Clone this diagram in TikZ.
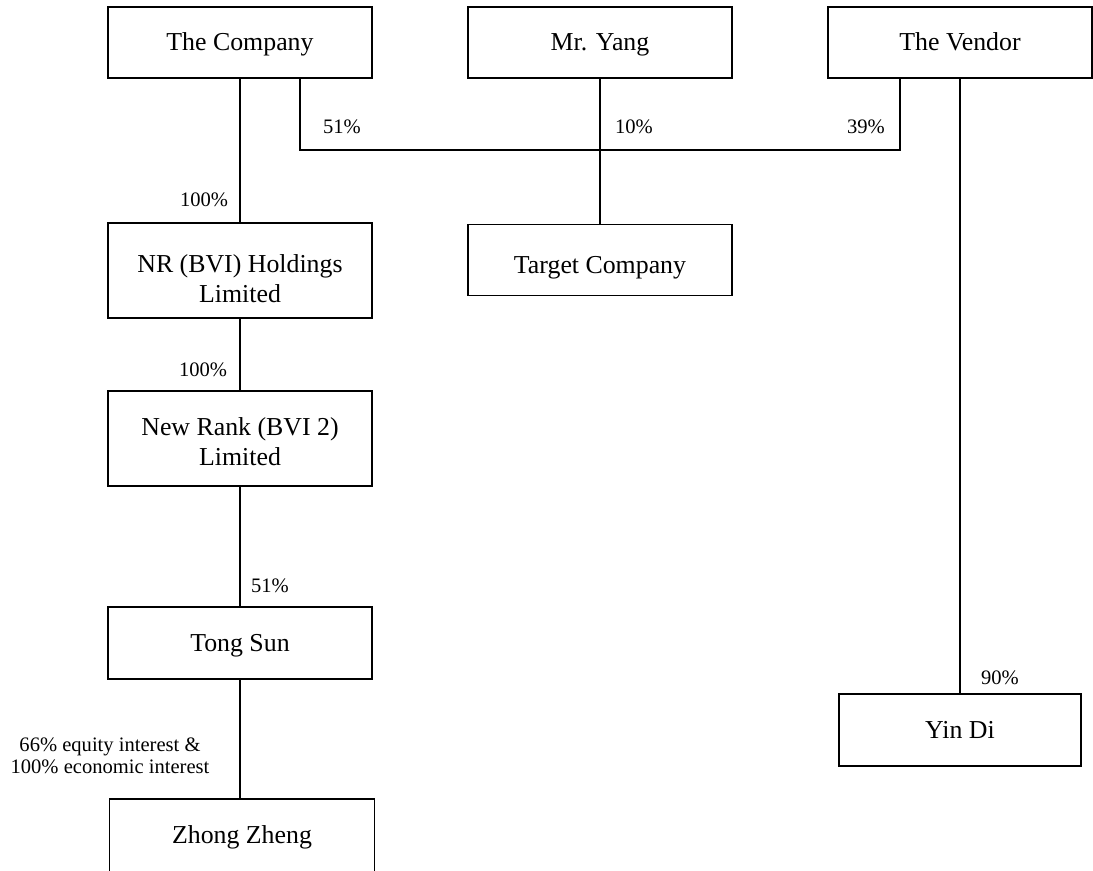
\documentclass[tikz,border=0pt]{standalone}
\usepackage{fontspec}
\setmainfont{Liberation Serif}
\usepackage{tikz}
\usetikzlibrary{positioning}

\begin{document}
\begin{tikzpicture}[line width=0.6pt,
	entity/.style={draw, align=center, minimum width=5.28cm, minimum height=1.44cm, inner sep=2pt, font=\fontsize{14.7}{17}\selectfont},
	oneline/.style={text height=10.5pt, text depth=1pt},
	share/.style={inner sep=0pt, font=\fontsize{11.7}{12.5}\selectfont}]%, every node/.style={draw=black!30}]
	\useasboundingbox (0,0) rectangle (21.86,17.4);
	% top row
	\node[entity, oneline, minimum height=1.42cm] (company) at (4.8,16.55) {The Company};
	\node[entity, oneline, minimum height=1.42cm] (yang) at (12,16.55) {Mr. Yang};
	\node[entity, oneline, minimum height=1.42cm] (vendor) at (19.2,16.55) {The Vendor};
	% left chain
	\node[entity, minimum height=1.9cm] (nr) at (4.8,11.99) {\rule{0pt}{19pt}NR (BVI) Holdings\\Limited};
	\node[entity, minimum height=1.9cm] (newrank) at (4.8,8.63) {\rule{0pt}{13.5pt}New Rank (BVI 2)\\Limited};
	\node[entity, oneline] (tongsun) at (4.8,4.54) {Tong Sun};
	\node[entity, oneline, draw=none, anchor=north] (zhong) at (4.84,1.42) {Zhong Zheng};
	\draw (zhong.south west) -- (zhong.north west) -- (zhong.north east) -- (zhong.south east);
	% target and Yin Di
	\node[entity, oneline, text height=15.5pt, text depth=0pt, minimum height=1.42cm] (target) at (12,12.2) {Target Company};
	\node[entity, oneline, minimum width=4.84cm] (yindi) at (19.2,2.8) {Yin Di};
	% connectors
	\coordinate (busL) at (6,14.4);
	\coordinate (busR) at (18,14.4);
	\draw (company.south -| busL) -- (busL) -- (busR) -- (vendor.south -| busR);
	\draw (yang) -- (target);
	\draw (company) -- (nr);
	\draw (nr) -- (newrank);
	\draw (newrank) -- (tongsun);
	\draw (tongsun.south) -- (tongsun.south |- zhong.north);
	\draw (vendor) -- (yindi);
	% percentages
	\node[share] (pc1) at (6.84,14.86) {51\%};
	\node[share] (pc2) at (12.68,14.86) {10\%};
	\node[share] (pc3) at (17.32,14.86) {39\%};
	\node[share] (pc4) at (4.08,13.4) {100\%};
	\node[share] (pc5) at (4.06,10.0) {100\%};
	\node[share] (pc6) at (5.4,5.68) {51\%};
	\node[share, align=center] (pc7) at (2.2,2.29) {66\% equity interest \&\\100\% economic interest};
	\node[share] (pc8) at (20,3.84) {90\%};
\end{tikzpicture}
\end{document}
